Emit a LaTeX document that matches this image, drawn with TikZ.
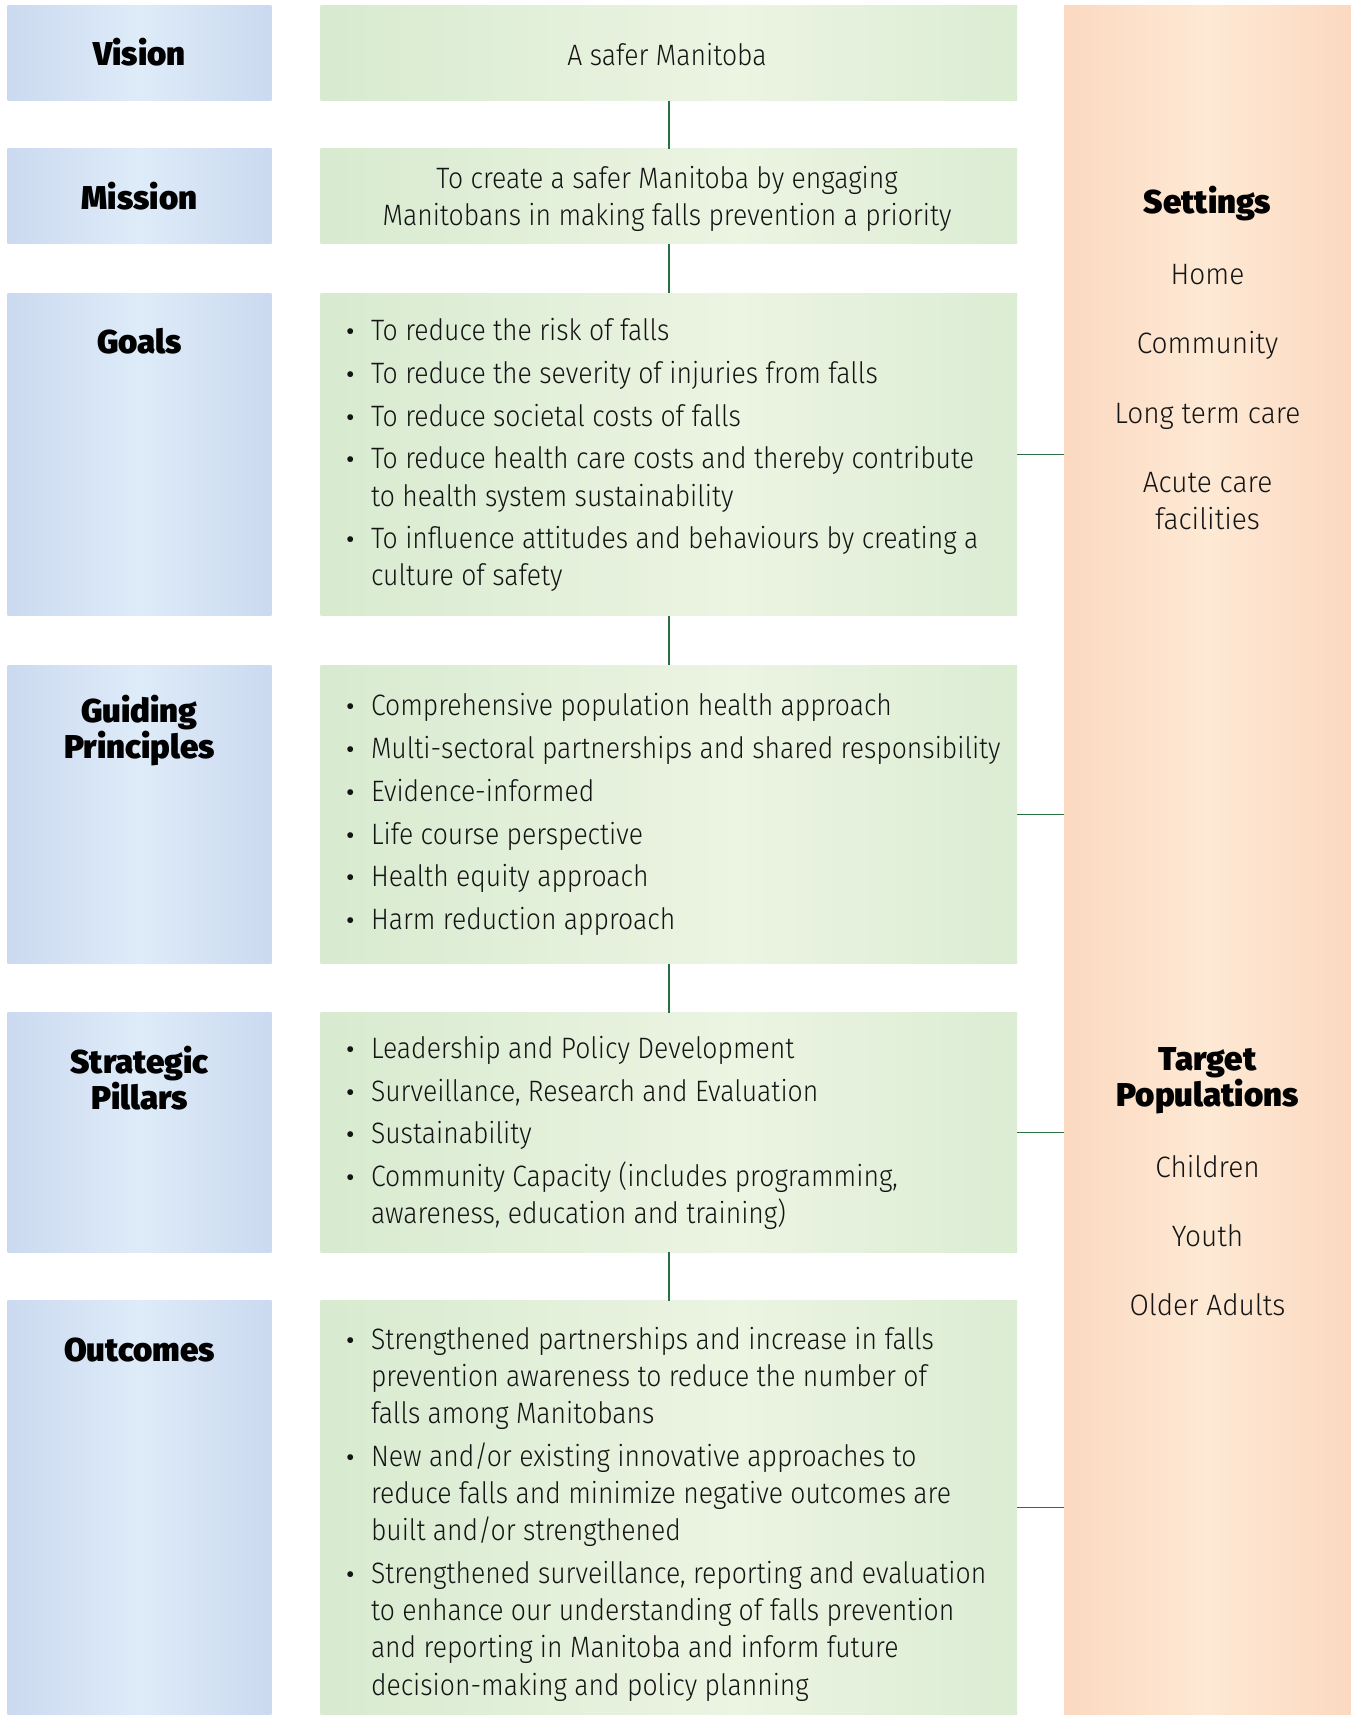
\documentclass[tikz,border=0pt]{standalone}
\usepackage{fontspec}
\setmainfont{Fira Sans}
\newfontfamily\bodyfont{Fira Sans Light}[FakeStretch=0.90]
\newfontfamily\sidefont{Fira Sans Light}[FakeStretch=0.95]
\newfontfamily\headfont{Fira Sans Black}

% band colours
\definecolor{blueedge}{RGB}{185,200,233}
\definecolor{bluemid}{RGB}{222,235,248}
\definecolor{greenedge}{RGB}{198,227,193}
\definecolor{greenmid}{RGB}{236,244,226}
\definecolor{orangeedge}{RGB}{251,200,173}
\definecolor{orangemid}{RGB}{253,233,212}
\definecolor{linkgreen}{RGB}{40,112,66}
\definecolor{ink}{RGB}{20,20,20}

\pgfdeclarehorizontalshading{blueshade}{100bp}{color(0bp)=(blueedge); color(50bp)=(bluemid); color(100bp)=(blueedge)}
\pgfdeclarehorizontalshading{greenshade}{100bp}{color(0bp)=(greenedge); color(55bp)=(greenmid); color(100bp)=(greenedge)}
\pgfdeclarehorizontalshading{orangeshade}{100bp}{color(0bp)=(orangeedge); color(50bp)=(orangemid); color(100bp)=(orangeedge)}

% bulleted list set in a top-aligned box; \\ breaks a line inside an item
\newcommand\bulletmark{{\normalfont\fontsize{26pt}{0pt}\selectfont\textbullet}}
\newcommand\bitem[1]{\par\noindent\hangindent=25pt\hangafter=1\hbox to 25pt{\bulletmark\hfil}#1}
\newcommand\blist[1]{\parbox[t]{680pt}{\bodyfont\fontsize{29.5pt}{37.2pt}\selectfont\setlength\parskip{5.5pt}#1}}
\newcommand\headtxt[1]{\parbox[t]{280pt}{\centering\headfont\fontsize{33pt}{36.5pt}\selectfont #1}}

\tikzset{
  panel/.style={draw=none, shade, inner sep=0pt, outer sep=0pt, anchor=north west},
  labelbox/.style={panel, shading=blueshade, minimum width=263.6pt},
  contentbox/.style={panel, shading=greenshade, minimum width=696.7pt},
  sidebox/.style={panel, shading=orangeshade, minimum width=286.5pt},
  txt/.style={inner sep=0pt, outer sep=0pt, text=ink},
  sideitem/.style={txt, anchor=base, font=\sidefont\fontsize{29.5pt}{37.2pt}\selectfont},
  sidehead/.style={txt, anchor=base, text=black},
  link/.style={draw=linkgreen, line width=1.4pt},
  trunk/.style={link, xshift=-1.6pt},
}

\begin{document}
\begin{tikzpicture}[x=1pt,y=-1pt]
\useasboundingbox (0,0) rectangle (1353,1715);
\fill[white] (0,0) rectangle (1353,1715);

% left label column
\node[labelbox, minimum height=95.1pt]  (visionL)  at (7.7,5.5) {};
\node[labelbox, minimum height=95.1pt]  (missionL) at (7.7,148.8) {};
\node[labelbox, minimum height=322.7pt] (goalsL)   at (7.7,293.1) {};
\node[labelbox, minimum height=298.6pt] (guideL)   at (7.7,665) {};
\node[labelbox, minimum height=239.5pt] (pillarL)  at (7.7,1012.9) {};
\node[labelbox, minimum height=414.5pt] (outL)     at (7.7,1300.5) {};

% middle content column
\node[contentbox, minimum height=95.1pt]  (vision)  at (320.5,5.5) {};
\node[contentbox, minimum height=95.1pt]  (mission) at (320.5,148.8) {};
\node[contentbox, minimum height=322.7pt] (goals)   at (320.5,293.1) {};
\node[contentbox, minimum height=298.6pt] (guide)   at (320.5,665) {};
\node[contentbox, minimum height=239.5pt] (pillar)  at (320.5,1012.9) {};
\node[contentbox, minimum height=414.5pt] (out)     at (320.5,1300.5) {};

% right column
\node[sidebox, minimum height=1709.5pt] (side) at (1064.3,5.5) {};

% connectors down the middle column
\draw[trunk] (vision.south) -- (mission.north);
\draw[trunk] (mission.south) -- (goals.north);
\draw[trunk] (goals.south) -- (guide.north);
\draw[trunk] (guide.south) -- (pillar.north);
\draw[trunk] (pillar.south) -- (out.north);
% connectors across to the right column
\draw[link] (goals.east)  -- (goals.east -| side.west);
\draw[link] (guide.east)  -- (guide.east -| side.west);
\draw[link] (pillar.east) -- (pillar.east -| side.west);
\draw[link] (out.east)    -- (out.east -| side.west);

% label headings
\node[txt, anchor=base, text=black] (visionH)  at (139.5,66)   {\headtxt{Vision}};
\node[txt, anchor=base, text=black] (missionH) at (139.5,210)  {\headtxt{Mission}};
\node[txt, anchor=base, text=black] (goalsH)   at (139.5,353)  {\headtxt{Goals}};
\node[txt, anchor=base, text=black] (guideH)   at (139.5,722)  {\headtxt{Guiding\\Principles}};
\node[txt, anchor=base, text=black] (pillarH)  at (139.5,1073) {\headtxt{Strategic\\Pillars}};
\node[txt, anchor=base, text=black] (outH)     at (139.5,1361) {\headtxt{Outcomes}};

% content texts
\node[txt, anchor=base] (visionT) at (667,66)
  {\bodyfont\fontsize{29.5pt}{37.2pt}\selectfont A safer Manitoba};
\node[txt, anchor=base] (missionT) at (667,188.3)
  {\parbox[t]{680pt}{\centering\bodyfont\fontsize{29.5pt}{37.7pt}\selectfont
   To create a safer Manitoba by engaging\\Manitobans in making falls prevention a priority}};

\node[txt, anchor=base west] (goalsT) at (346,340.7) {\blist{%
  \bitem{To reduce the risk of falls}
  \bitem{To reduce the severity of injuries from falls}
  \bitem{To reduce societal costs of falls}
  \bitem{To reduce health care costs and thereby contribute\\to health system sustainability}
  \bitem{To influence attitudes and behaviours by creating a\\culture of safety}}};

\node[txt, anchor=base west] (guideT) at (346,715.9) {\blist{%
  \bitem{Comprehensive population health approach}
  \bitem{Multi-sectoral partnerships and shared responsibility}
  \bitem{Evidence-informed}
  \bitem{Life course perspective}
  \bitem{Health equity approach}
  \bitem{Harm reduction approach}}};

\node[txt, anchor=base west] (pillarT) at (346,1058.3) {\blist{%
  \bitem{Leadership and Policy Development}
  \bitem{Surveillance, Research and Evaluation}
  \bitem{Sustainability}
  \bitem{Community Capacity (includes programming,\\awareness, education and training)}}};

\node[txt, anchor=base west] (outT) at (346,1349.2) {\blist{%
  \bitem{Strengthened partnerships and increase in falls\\prevention awareness to reduce the number of\\falls among Manitobans}
  \bitem{New and/or existing innovative approaches to\\reduce falls and minimize negative outcomes are\\built and/or strengthened}
  \bitem{Strengthened surveillance, reporting and evaluation\\to enhance our understanding of falls prevention\\and reporting in Manitoba and inform future\\decision-making and policy planning}}};

% right column texts
\node[sidehead] (setH) at (1207.5,214) {\headtxt{Settings}};
\node[sideitem] (setA) at (1207.5,284) {Home};
\node[sideitem] (setB) at (1207.5,353) {Community};
\node[sideitem] (setC) at (1207.5,423) {Long term care};
\node[sideitem] (setD) at (1207.5,492) {\parbox[t]{250pt}{\centering Acute care\\facilities}};

\node[sidehead] (popH) at (1207.5,1070) {\headtxt{Target\\Populations}};
\node[sideitem] (popA) at (1207.5,1177) {Children};
\node[sideitem] (popB) at (1207.5,1246) {Youth};
\node[sideitem] (popC) at (1207.5,1315) {Older Adults};
\end{tikzpicture}
\end{document}
